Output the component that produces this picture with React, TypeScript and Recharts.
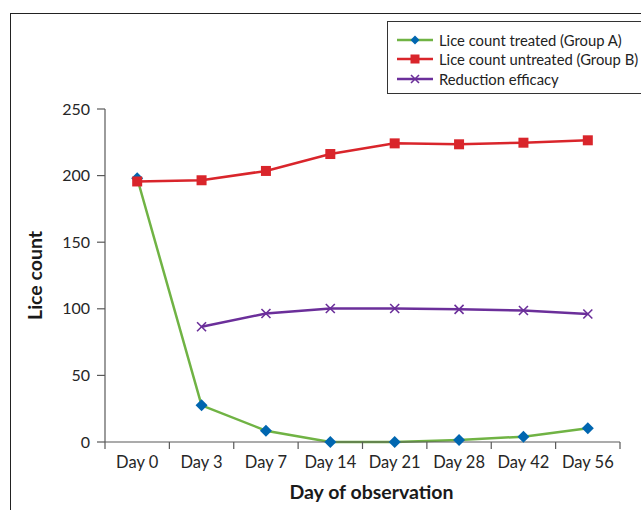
import { LineChart, Line, XAxis, YAxis, Legend, Label } from 'recharts';

const days = ['Day 0', 'Day 3', 'Day 7', 'Day 14', 'Day 21', 'Day 28', 'Day 42', 'Day 56'];
const treated = [198, 27.5, 8.5, 0, 0, 1.5, 4, 10.3];
const untreated = [195.6, 196.5, 203.5, 216.2, 224.2, 223.5, 224.7, 226.5];
const efficacy = [null, 86.5, 96.5, 100.2, 100.2, 99.6, 98.7, 96.1];
const yTicks = [0, 50, 100, 150, 200, 250];

const FONT = 'Lato, "Noto Sans", sans-serif';
const GREEN = '#70b344';
const BLUE = '#0066b0';
const RED = '#d9252b';
const PURPLE = '#6b2f9a';
const AXIS = '#595959';

const data = days.map((d, i) => ({
    x: i + 0.5,
    day: d,
    treated: treated[i],
    untreated: untreated[i],
    efficacy: efficacy[i],
}));

const xTicks: number[] = [];
for (let i = 0; i <= days.length; i++) {
    xTicks.push(i);
    if (i < days.length) xTicks.push(i + 0.5);
}

const diamond = (cx: number, cy: number, r: number, key?: any) => (
    <polygon key={key} points={`${cx},${cy - r} ${cx + r},${cy} ${cx},${cy + r} ${cx - r},${cy}`} fill={BLUE} />
);
const square = (cx: number, cy: number, r: number, key?: any) => (
    <rect key={key} x={cx - r} y={cy - r} width={r * 2} height={r * 2} fill={RED} />
);
const cross = (cx: number, cy: number, r: number, key?: any) => (
    <g key={key} stroke={PURPLE} strokeWidth={1.6}>
        <line x1={cx - r} y1={cy - r} x2={cx + r} y2={cy + r} />
        <line x1={cx - r} y1={cy + r} x2={cx + r} y2={cy - r} />
    </g>
);

const dotFor = (shape: typeof diamond, r: number) => (props: any) => {
    const { cx, cy, index } = props;
    if (cy == null || cx == null || props.value == null) return <g key={`e-${index}`} />;
    return shape(cx, cy, r, `d-${index}`);
};

const series = [
    { name: 'Lice count treated (Group A)', color: GREEN, shape: diamond },
    { name: 'Lice count untreated (Group B)', color: RED, shape: square },
    { name: 'Reduction efficacy', color: PURPLE, shape: cross },
];

const LegendBox = () => (
    <div style={{ border: '1px solid #333', width: 262, height: 73, boxSizing: 'border-box', padding: '8px 0 0 9px', fontFamily: FONT, fontSize: 14.8, color: '#222', background: '#fff' }}>
        {series.map((s) => (
            <div key={s.name} style={{ display: 'flex', alignItems: 'center', height: 19.5 }}>
                <svg width={38} height={14} style={{ marginRight: 4 }}>
                    <line x1={0} y1={7} x2={36} y2={7} stroke={s.color} strokeWidth={2.5} />
                    {s.shape(18, 7, s.shape === cross ? 4 : 4.5)}
                </svg>
                <span>{s.name}</span>
            </div>
        ))}
    </div>
);

const XTick = (props: any) => {
    const { x, y, payload } = props;
    const v = payload.value;
    if (Number.isInteger(v)) {
        return <line x1={x} y1={y - 8} x2={x} y2={y - 1} stroke={AXIS} strokeWidth={1.2} />;
    }
    return (
        <text x={x} y={y + 18} textAnchor="middle" fill="#262626" fontSize={16.5} fontFamily={FONT}>
            {days[Math.floor(v)]}
        </text>
    );
};

export default function App() {
    return (
        <div style={{ position: 'absolute', left: 0, top: 0, width: 641, height: 510, overflow: 'hidden', background: '#fff' }}>
            <div style={{ position: 'absolute', left: 10, top: 13, width: 700, height: 600, borderLeft: '1.5px solid #222', borderTop: '1.5px solid #222' }} />
            <LineChart
                width={641}
                height={510}
                data={data}
                margin={{ top: 109, right: 21, bottom: 38, left: 0 }}
                style={{ position: 'absolute', left: 0, top: 0 }}
            >
                <XAxis
                    dataKey="x"
                    type="number"
                    domain={[0, days.length]}
                    ticks={xTicks}
                    interval={0}
                    height={30}
                    tickLine={false}
                    tick={<XTick />}
                    stroke={AXIS}
                    strokeWidth={1.2}
                >
                    <Label
                        content={({ viewBox }: any) => (
                            <text x={viewBox.x + viewBox.width / 2 + 9} y={viewBox.y + 57} textAnchor="middle" fontWeight="bold" fontSize={19.5} fontFamily={FONT} fill="#1a1a1a">
                                Day of observation
                            </text>
                        )}
                    />
                </XAxis>
                <YAxis
                    domain={[0, 250]}
                    ticks={yTicks}
                    interval={0}
                    width={105}
                    tickSize={8}
                    tickMargin={7}
                    stroke={AXIS}
                    strokeWidth={1.2}
                    tick={{ fill: '#262626', fontSize: 16, fontFamily: FONT }}
                >
                    <Label
                        content={({ viewBox }: any) => {
                            const cx = 37;
                            const cy = viewBox.y + viewBox.height / 2;
                            return (
                                <text x={cx} y={cy} transform={`rotate(-90 ${cx} ${cy})`} textAnchor="middle" dominantBaseline="middle" fontWeight="bold" fontSize={19.5} fontFamily={FONT} fill="#1a1a1a">
                                    Lice count
                                </text>
                            );
                        }}
                    />
                </YAxis>
                <Legend
                    layout="vertical"
                    align="center"
                    verticalAlign="middle"
                    content={<LegendBox />}
                    wrapperStyle={{ left: 387, top: 21, width: 262 }}
                />
                <Line dataKey="treated" name={series[0].name} stroke={GREEN} strokeWidth={2.5} dot={dotFor(diamond, 6)} activeDot={false} isAnimationActive={false} />
                <Line dataKey="untreated" name={series[1].name} stroke={RED} strokeWidth={2.5} dot={dotFor(square, 5)} activeDot={false} isAnimationActive={false} />
                <Line dataKey="efficacy" name={series[2].name} stroke={PURPLE} strokeWidth={2.5} dot={dotFor(cross, 4.5)} activeDot={false} isAnimationActive={false} />
            </LineChart>
        </div>
    );
}
